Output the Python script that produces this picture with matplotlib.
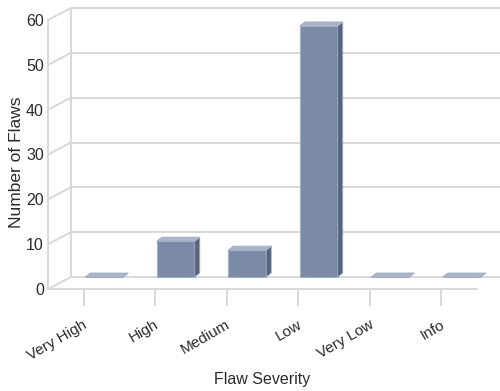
import matplotlib
matplotlib.use("Agg")
import matplotlib.pyplot as plt
from matplotlib.patches import Polygon, ConnectionPatch
import matplotlib.transforms as mtransforms

plt.rcParams['font.family'] = ['Liberation Sans', 'DejaVu Sans']

categories = ["Very High", "High", "Medium", "Low", "Very Low", "Info"]
values = [0, 8, 6, 56, 0, 0]
yticks = [0, 10, 20, 30, 40, 50, 60]
ymax = 60

W, H, DPI = 500, 391, 100
fig = plt.figure(figsize=(W / DPI, H / DPI), dpi=DPI)

# geometry (pixels)
back_l, back_r, back_bot, back_top = 71, 500, 277, 8
shift_x, shift_y = 23, 12
bar_w_px, depth_x_px, depth_y_px = 38, 5, 4

grid_c = '#d8d8d8'
text_c = '#2b2b2b'
face_c = '#7a8aa7'
side_c = '#55637d'
top_c = '#aab5ca'
edge_c = '#a3afc4'

ax = fig.add_axes([back_l / W, (H - back_bot) / H, (back_r - back_l) / W, (back_bot - back_top) / H])
axf = fig.add_axes([(back_l - shift_x) / W, (H - back_bot - shift_y) / H,
                    (back_r - back_l) / W, (back_bot - back_top) / H])
axf.patch.set_alpha(0)
ax.patch.set_alpha(0)

n = len(categories)
for a in (ax, axf):
    a.set_xlim(-0.5, n - 0.5)
    a.set_ylim(0, ymax)

# back wall
ax.set_xticks([])
ax.set_yticks([])
for s in ax.spines.values():
    s.set_visible(False)
ax.hlines(yticks, -0.5, n - 0.5, colors=grid_c, lw=1.4, clip_on=False, zorder=1)
ax.vlines([-0.5], 0, ymax, colors=grid_c, lw=1.4, clip_on=False, zorder=1)

# data-per-pixel
dxp = n / (back_r - back_l)
dyp = ymax / (back_bot - back_top)
bw = bar_w_px * dxp
ddx = depth_x_px * dxp
ddy = depth_y_px * dyp

xs = list(range(n))
front_centers = [x - ddx / 2 for x in xs]
ax.bar(front_centers, values, width=bw, color=face_c, edgecolor=edge_c, lw=0.8, zorder=3, clip_on=False)
for xc, v in zip(front_centers, values):
    l, r = xc - bw / 2, xc + bw / 2
    side = Polygon([(r, 0), (r + ddx, ddy), (r + ddx, v + ddy), (r, v)], closed=True,
                   facecolor=side_c, edgecolor=edge_c, lw=0.6, zorder=3, clip_on=False)
    top = Polygon([(l, v), (r, v), (r + ddx, v + ddy), (l + ddx, v + ddy)], closed=True,
                  facecolor=top_c, edgecolor=edge_c, lw=0.6, zorder=3, clip_on=False)
    ax.add_patch(side)
    ax.add_patch(top)

# front plane axes
for k in ('top', 'right'):
    axf.spines[k].set_visible(False)
for k in ('left', 'bottom'):
    axf.spines[k].set_color(grid_c)
    axf.spines[k].set_linewidth(1.4)
axf.set_yticks(yticks)
axf.set_yticklabels([str(t) for t in yticks])
axf.tick_params(axis='y', length=0, pad=3, labelsize=11.5, labelcolor=text_c)
axf.set_xticks(xs)
axf.set_xticklabels(categories)
axf.tick_params(axis='x', length=12.5, width=1.4, color=grid_c, direction='out',
                pad=8, labelsize=11, labelcolor=text_c)
offset = mtransforms.ScaledTranslation(-1 / DPI, 0, fig.dpi_scale_trans)
for lab in axf.get_xticklabels():
    lab.set_rotation(30)
    lab.set_ha('right')
    lab.set_va('top')
    lab.set_rotation_mode('anchor')
    lab.set_transform(lab.get_transform() + offset)

# diagonals connecting front and back
for t in yticks:
    con = ConnectionPatch(xyA=(-0.5, t), coordsA=axf.transData, xyB=(-0.5, t), coordsB=ax.transData,
                          color=grid_c, lw=1.4, zorder=1)
    fig.add_artist(con)

axf.set_ylabel("Number of Flaws", fontsize=12.5, color=text_c)
axf.yaxis.set_label_coords(-0.057, 0.47)
axf.set_xlabel("Flaw Severity", fontsize=11.5, color=text_c)
axf.xaxis.set_label_coords(0.5, -0.31)

fig.savefig("out.png", dpi=DPI)
